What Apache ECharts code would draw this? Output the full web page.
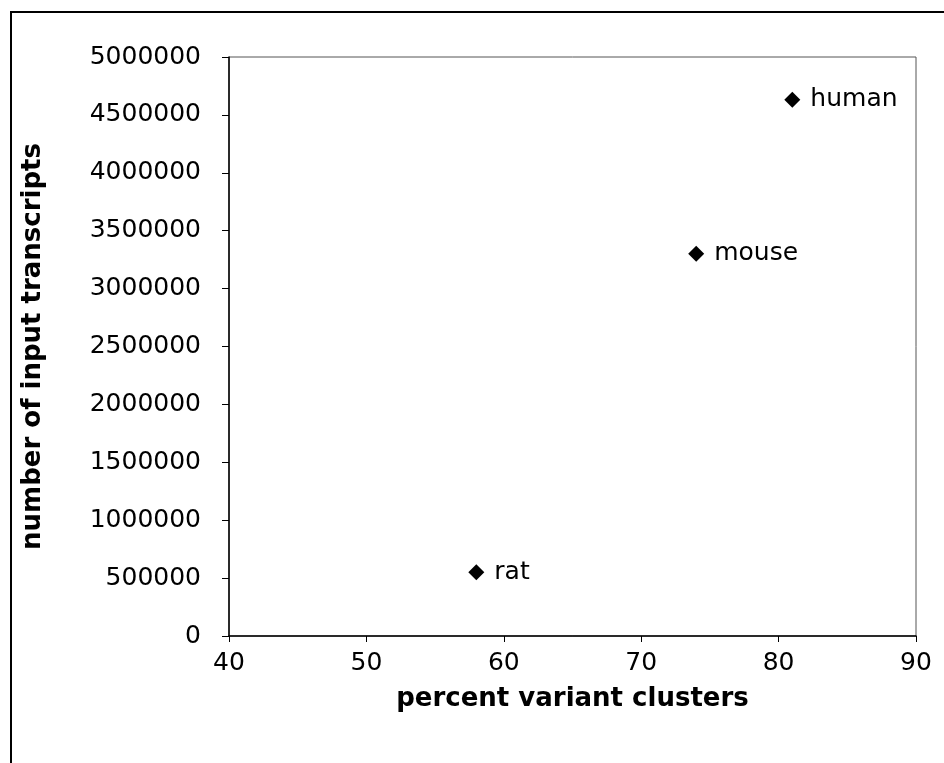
<!DOCTYPE html>
<html><head><meta charset="utf-8">
<script src="https://cdn.jsdelivr.net/npm/echarts@6/dist/echarts.min.js"></script>
<style>html,body{margin:0;padding:0;background:#fff}#c{width:944px;height:763px}</style>
</head><body><div id="c"></div>
<script>
const species = ['rat', 'mouse', 'human'];
const percentVariant = [58, 74, 81];
const inputTranscripts = [550000, 3300000, 4630000];
const xTitle = 'percent variant clusters';
const yTitle = 'number of input transcripts';

const data = species.map((s, i) => ({ name: s, value: [percentVariant[i], inputTranscripts[i]] }));
const font = 'DejaVu Sans, Verdana, sans-serif';
const chart = echarts.init(document.getElementById('c'), null, { renderer: 'canvas' });
chart.setOption({
  animation: false,
  backgroundColor: '#fff',
  graphic: [{
    type: 'rect', shape: { x: 11, y: 12, width: 960, height: 800 },
    style: { fill: 'none', stroke: '#000', lineWidth: 2 }, z: -1
  }],
  grid: { left: 229, right: 28, top: 57, bottom: 127, show: true, borderColor: '#555', borderWidth: 1 },
  xAxis: {
    type: 'value', min: 40, max: 90, interval: 10,
    name: xTitle, nameLocation: 'middle', nameGap: 50,
    nameTextStyle: { fontFamily: font, fontSize: 26, fontWeight: 'bold', color: '#000' },
    axisLine: { show: true, onZero: false, lineStyle: { color: '#000', width: 1.5 } },
    axisTick: { show: true, length: 6, inside: false, lineStyle: { color: '#000' } },
    axisLabel: { fontFamily: font, fontSize: 25, color: '#000', margin: 15 },
    splitLine: { show: false }
  },
  yAxis: {
    type: 'value', min: 0, max: 5000000, interval: 500000,
    name: yTitle, nameLocation: 'middle', nameGap: 183, nameRotate: 90,
    nameTextStyle: { fontFamily: font, fontSize: 26, fontWeight: 'bold', color: '#000' },
    axisLine: { show: true, onZero: false, lineStyle: { color: '#000', width: 1.5 } },
    axisTick: { show: true, length: 7, inside: false, lineStyle: { color: '#000' } },
    axisLabel: { fontFamily: font, fontSize: 25, color: '#000', margin: 28, formatter: v => String(v) },
    splitLine: { show: false }
  },
  series: [{
    type: 'scatter', data: data, symbol: 'diamond', symbolSize: 16,
    itemStyle: { color: '#000', opacity: 1 },
    label: {
      show: true, position: 'right', distance: 10, formatter: p => p.name,
      fontFamily: font, fontSize: 25, color: '#000'
    }
  }]
});
</script></body></html>
